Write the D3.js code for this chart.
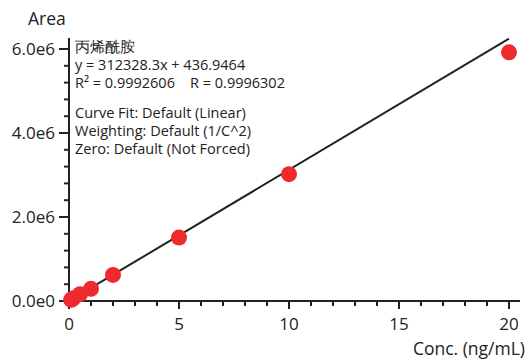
<!DOCTYPE html>
<html><head><meta charset="utf-8">
<script src="https://cdn.jsdelivr.net/npm/d3@7"></script>
<style>html,body{margin:0;padding:0;background:#fff;}svg{display:block;font-family:"Open Sans","Noto Sans",sans-serif;}</style>
</head><body><svg id="c" width="528" height="359"></svg>
<script>
const conc = [0.1, 0.2, 0.5, 1, 2, 5, 10, 20];
const area = [30000, 65000, 160000, 290000, 620000, 1510000, 3020000, 5920000];
const slope = 312328.3, intercept = 436.9464;
const xTicks = [0, 5, 10, 15, 20];
const yTicks = [0, 2e6, 4e6, 6e6];
const yTickLabels = ["0.0e0", "2.0e6", "4.0e6", "6.0e6"];
const annot = ["丙烯酰胺", "y = 312328.3x + 436.9464", "R² = 0.9992606\u00a0\u00a0\u00a0\u00a0R = 0.9996302", "", "Curve Fit: Default (Linear)", "Weighting: Default (1/C^2)", "Zero: Default (Not Forced)"];

const svg = d3.select("#c");
const x = d3.scaleLinear().domain([0, 20]).range([69, 509]);
const y = d3.scaleLinear().domain([0, 6e6]).range([301, 49]);
const ink = "#222";

// x axis
const gx = svg.append("g").attr("transform", "translate(0,301)");
gx.append("line").attr("x1", 68).attr("x2", 520).attr("stroke", ink).attr("stroke-width", 2);
gx.selectAll(".mn").data(d3.range(0, 21, 1)).join("line")
  .attr("x1", d => x(d)).attr("x2", d => x(d)).attr("y1", 0)
  .attr("y2", d => d % 5 === 0 ? 8 : 5).attr("stroke", ink).attr("stroke-width", 2);
gx.selectAll("text").data(xTicks).join("text")
  .attr("x", d => x(d)).attr("y", 29).attr("text-anchor", "middle")
  .attr("font-size", 17).attr("fill", ink).text(d => d);
svg.append("text").attr("x", 525).attr("y", 355).attr("text-anchor", "end")
  .attr("font-size", 17.5).attr("fill", ink).text("Conc. (ng/mL)");

// y axis
const gy = svg.append("g").attr("transform", "translate(69,0)");
gy.append("line").attr("y1", 38).attr("y2", 302).attr("stroke", ink).attr("stroke-width", 2);
gy.selectAll(".mn").data(d3.range(0, 16)).join("line")
  .attr("y1", d => y(d * 4e5)).attr("y2", d => y(d * 4e5))
  .attr("x1", 0).attr("x2", d => d % 5 === 0 ? -10 : -5).attr("stroke", ink).attr("stroke-width", 2);
gy.selectAll("text").data(yTicks).join("text")
  .attr("x", -14).attr("y", d => y(d)).attr("dy", "0.36em").attr("text-anchor", "end")
  .attr("font-size", 17).attr("fill", ink).text((d, i) => yTickLabels[i]);
svg.append("text").attr("x", 28).attr("y", 25).attr("font-size", 17.5).attr("fill", ink).text("Area");

// regression line
svg.append("line")
  .attr("x1", x(0)).attr("y1", y(intercept))
  .attr("x2", x(20)).attr("y2", y(slope * 20 + intercept))
  .attr("stroke", ink).attr("stroke-width", 2);

// points
svg.selectAll("circle").data(conc).join("circle")
  .attr("cx", d => x(d)).attr("cy", (d, i) => y(area[i])).attr("r", 8)
  .attr("fill", "#ee2a2f");

// annotations
const ta = svg.append("g").attr("font-size", 14.5).attr("fill", ink);
annot.forEach((t, i) => {
  ta.append("text").attr("x", 75).attr("y", 52 + i * 18 + (i >= 4 ? -6 : 0)).text(t);
});
</script></body></html>
